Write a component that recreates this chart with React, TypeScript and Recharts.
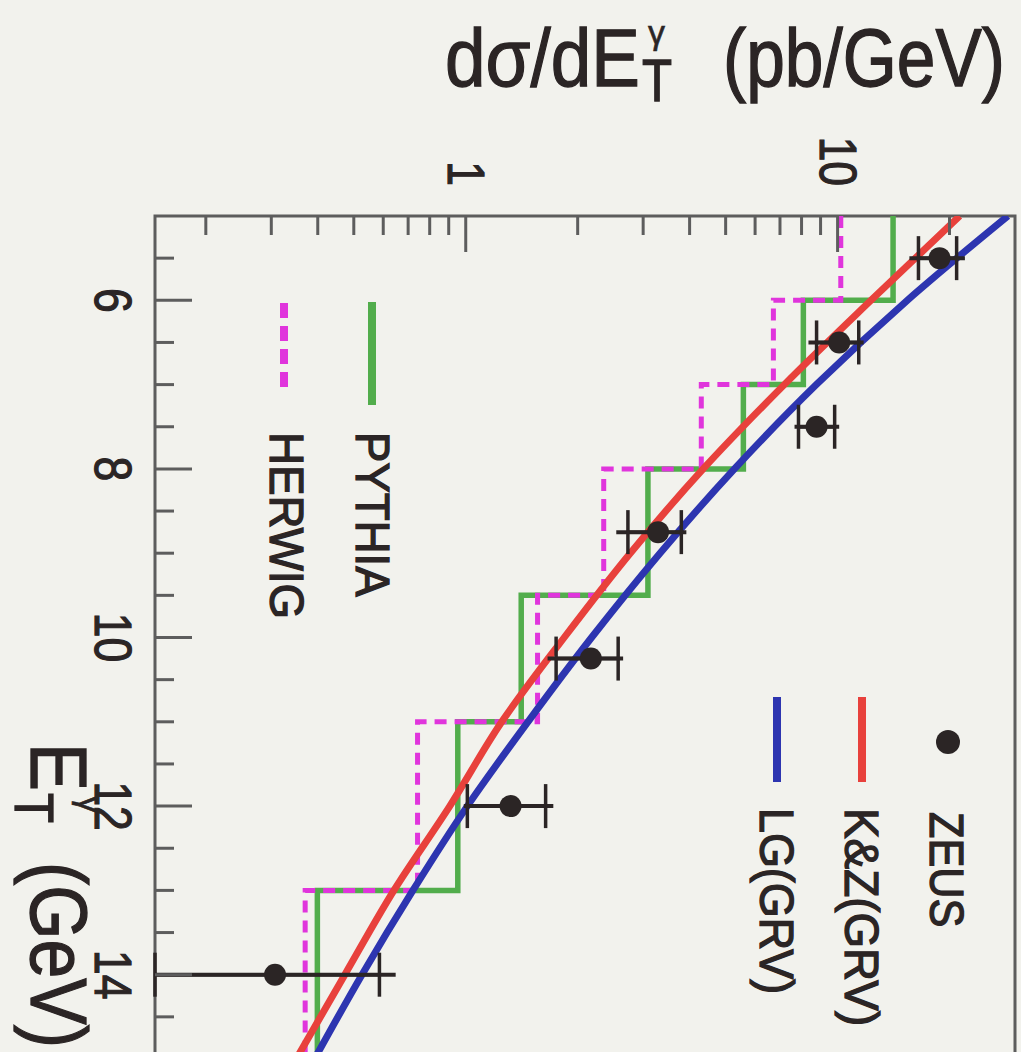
import React from 'react';
import {
    ComposedChart, Line, Scatter, ErrorBar, XAxis, YAxis, ReferenceArea
} from 'recharts';

// E_T bin edges (GeV) shared by the two MC histograms
const binEdges = [5, 6, 7, 8, 9.5, 11, 13, 15];
const pythiaVals = [14.1, 8.09, 5.58, 3.09, 1.41, 0.952, 0.399];
const herwigVals = [10.2, 6.72, 4.3, 2.35, 1.56, 0.742, 0.37];

const curveE = [5, 6, 7, 8, 9, 10, 11, 12, 13, 14, 15];
const kzVals = [21.3, 12.3, 7.19, 4.35, 2.77, 1.84, 1.25, 0.906, 0.641, 0.473, 0.35];
const lgVals = [28.7, 15.4, 8.77, 5.28, 3.33, 2.18, 1.47, 1.01, 0.721, 0.526, 0.392];

// ZEUS points: value, outer (total) and inner (stat) error limits
// (last point's lower errors run off the bottom of the scale)
const zeusE = [5.5, 6.5, 7.5, 8.75, 10.25, 12, 14];
const zeusV = [18.8, 10.1, 8.78, 3.29, 2.17, 1.32, 0.307];
const zeusOuterLo = [15.6, 8.35, 7.66, 2.54, 1.66, 0.988, 0.146];
const zeusOuterHi = [22.0, 11.75, 10.1, 3.92, 2.65, 1.72, 0.648];
const zeusInnerLo = [16.5, 8.78, 7.85, 2.73, 1.75, 1.01, 0.146];
const zeusInnerHi = [20.9, 11.4, 9.82, 3.8, 2.57, 1.64, 0.586];

const eTicks = [5.5, 6, 6.5, 7, 7.5, 8, 8.5, 9, 9.5, 10, 10.5, 11, 11.5, 12, 12.5, 13, 13.5, 14, 14.5];
const logTicks = [0.2, 0.3, 0.4, 0.5, 0.6, 0.7, 0.8, 0.9, 1, 2, 3, 4, 5, 6, 7, 8, 9, 10, 20];

const BG = '#f2f2ed';
const INK = '#2b2525';
const FRAME = '#5d5d5d';
const RED = '#e8413c';
const BLUE = '#2d35b0';
const GREEN = '#52ad4c';
const MAGENTA = '#e035dc';
const FONT = '"Liberation Sans", Arial, Helvetica, sans-serif';

const histo = (vals: number[]) =>
    binEdges.map((e, i) => ({ e, v: vals[Math.min(i, vals.length - 1)] }));

const pythiaData = histo(pythiaVals);
const herwigData = histo(herwigVals);
const kzData = curveE.map((e, i) => ({ e, v: kzVals[i] }));
const lgData = curveE.map((e, i) => ({ e, v: lgVals[i] }));
const zeusData = zeusE.map((e, i) => ({
    e,
    v: zeusV[i],
    outer: [zeusV[i] - zeusOuterLo[i], zeusOuterHi[i] - zeusV[i]],
    inner: [zeusV[i] - zeusInnerLo[i], zeusInnerHi[i] - zeusV[i]],
}));

// text squeezed sideways, the original lettering is a bit narrower than Arial
const SText = ({ x, y, size, sx, anchor = 'start', sw, children }: any) => (
    <text transform={`translate(${x},${y}) scale(${sx},1)`} fontSize={size} textAnchor={anchor}
        strokeWidth={sw}>{children}</text>
);

const ETick = (props: any) => {
    const { x, y, payload } = props;
    const v = payload.value;
    const major = v % 2 === 0;
    return (
        <g>
            <line x1={x} y1={y} x2={x} y2={y - (major ? 37 : 19)} stroke={FRAME} strokeWidth={3} />
            {major && (
                <text transform={`translate(${x},${y + 60}) scale(0.87,1)`} textAnchor="middle"
                    fontSize={51} fontFamily={FONT} fill={INK} stroke={INK} strokeWidth={1.2}>{v}</text>
            )}
        </g>
    );
};

const LogTick = (props: any) => {
    const { x, y, payload } = props;
    const v = payload.value;
    const major = v === 1 || v === 10;
    return (
        <g>
            <line x1={x} y1={y} x2={x + (major ? 36 : 19)} y2={y} stroke={FRAME} strokeWidth={3} />
            {major && (
                <text transform={`translate(${x - 30},${y + 18}) scale(0.87,1)`} textAnchor="end"
                    fontSize={51} fontFamily={FONT} fill={INK} stroke={INK} strokeWidth={1.2}>{v}</text>
            )}
        </g>
    );
};

const Dot = (p: any) => <circle cx={p.cx} cy={p.cy} r={11} fill={INK} />;

const App = () => {
    return (
        <div style={{ position: 'fixed', left: 0, top: 0, width: 1021, height: 1052, overflow: 'hidden', background: BG }}>
            {/* the plot is drawn lying down, then turned a quarter clockwise */}
            <div style={{
                position: 'absolute', left: 0, top: 0, width: 1052, height: 1021, overflow: 'hidden',
                transformOrigin: '0 0', transform: 'translate(1021px,0) rotate(90deg)'
            }}>
                <ComposedChart width={1100} height={1021} margin={{ top: 6, right: 41, left: 16, bottom: 15 }}>
                    <XAxis type="number" dataKey="e" domain={[5, 15]} ticks={eTicks} interval={0}
                        allowDataOverflow height={140} axisLine={false} tickLine={false}
                        tickSize={0} tickMargin={0} tick={<ETick />} />
                    <YAxis type="number" dataKey="v" scale="log" domain={[0.146, 30]} ticks={logTicks}
                        interval={0} allowDataOverflow width={200} axisLine={false} tickLine={false}
                        tickSize={0} tickMargin={0} tick={<LogTick />} />
                    <ReferenceArea x1={5} x2={15} y1={0.146} y2={30} fill="none" stroke={FRAME} strokeWidth={3} />
                    <Line data={pythiaData} dataKey="v" type="stepAfter" stroke={GREEN} strokeWidth={5.5}
                        dot={false} isAnimationActive={false} />
                    <Line data={herwigData} dataKey="v" type="stepAfter" stroke={MAGENTA} strokeWidth={5}
                        strokeDasharray="12 8" dot={false} isAnimationActive={false} />
                    <Line data={lgData} dataKey="v" type="monotone" stroke={BLUE} strokeWidth={7}
                        dot={false} isAnimationActive={false} />
                    <Line data={kzData} dataKey="v" type="monotone" stroke={RED} strokeWidth={7}
                        dot={false} isAnimationActive={false} />
                    <Scatter data={zeusData} dataKey="v" shape={Dot} isAnimationActive={false}>
                        <ErrorBar dataKey="outer" direction="y" width={0} stroke={INK} strokeWidth={4} />
                        <ErrorBar dataKey="inner" direction="y" width={22} stroke={INK} strokeWidth={3.5} />
                    </Scatter>
                </ComposedChart>
                <svg width={1052} height={1021} style={{ position: 'absolute', left: 0, top: 0, pointerEvents: 'none' }}
                    fontFamily={FONT} fill={INK} stroke={INK} strokeWidth={1.3}>
                    {/* y title: turned so it reads upright in the final picture */}
                    <g transform="translate(86,576) rotate(-90)">
                        <SText x={0} y={0} size={81} sx={0.9}>dσ/dE</SText>
                        <SText x={203} y={-42} size={34} sx={1} sw={0.6}>γ</SText>
                        <SText x={197} y={15} size={60} sx={0.82}>T</SText>
                        <SText x={278} y={0} size={81} sx={0.858}>(pb/GeV)</SText>
                    </g>
                    {/* x title */}
                    <SText x={743} y={990} size={80} sx={0.9}>E</SText>
                    <SText x={796} y={942} size={34} sx={1} sw={0.6}>γ</SText>
                    <SText x={793} y={1006} size={56} sx={0.88}>T</SText>
                    <SText x={862} y={990} size={80} sx={0.872}>(GeV)</SText>
                    {/* legend */}
                    <circle cx={742} cy={73} r={12} fill={INK} stroke="none" />
                    <SText x={812} y={91} size={48} sx={0.9}>ZEUS</SText>
                    <line x1={697} x2={782} y1={159} y2={159} stroke={RED} strokeWidth={8} />
                    <SText x={808} y={176} size={48} sx={0.955}>{'K&Z(GRV)'}</SText>
                    <line x1={697} x2={782} y1={244} y2={244} stroke={BLUE} strokeWidth={8} />
                    <SText x={808} y={261} size={48} sx={0.935}>LG(GRV)</SText>
                    <line x1={302} x2={405} y1={649} y2={649} stroke={GREEN} strokeWidth={8} />
                    <SText x={432} y={665} size={48} sx={0.95}>PYTHIA</SText>
                    <line x1={303} x2={395} y1={737} y2={737} stroke={MAGENTA} strokeWidth={8} strokeDasharray="15 8" />
                    <SText x={432} y={751} size={48} sx={0.953}>HERWIG</SText>
                </svg>
            </div>
        </div>
    );
};

export default App;
